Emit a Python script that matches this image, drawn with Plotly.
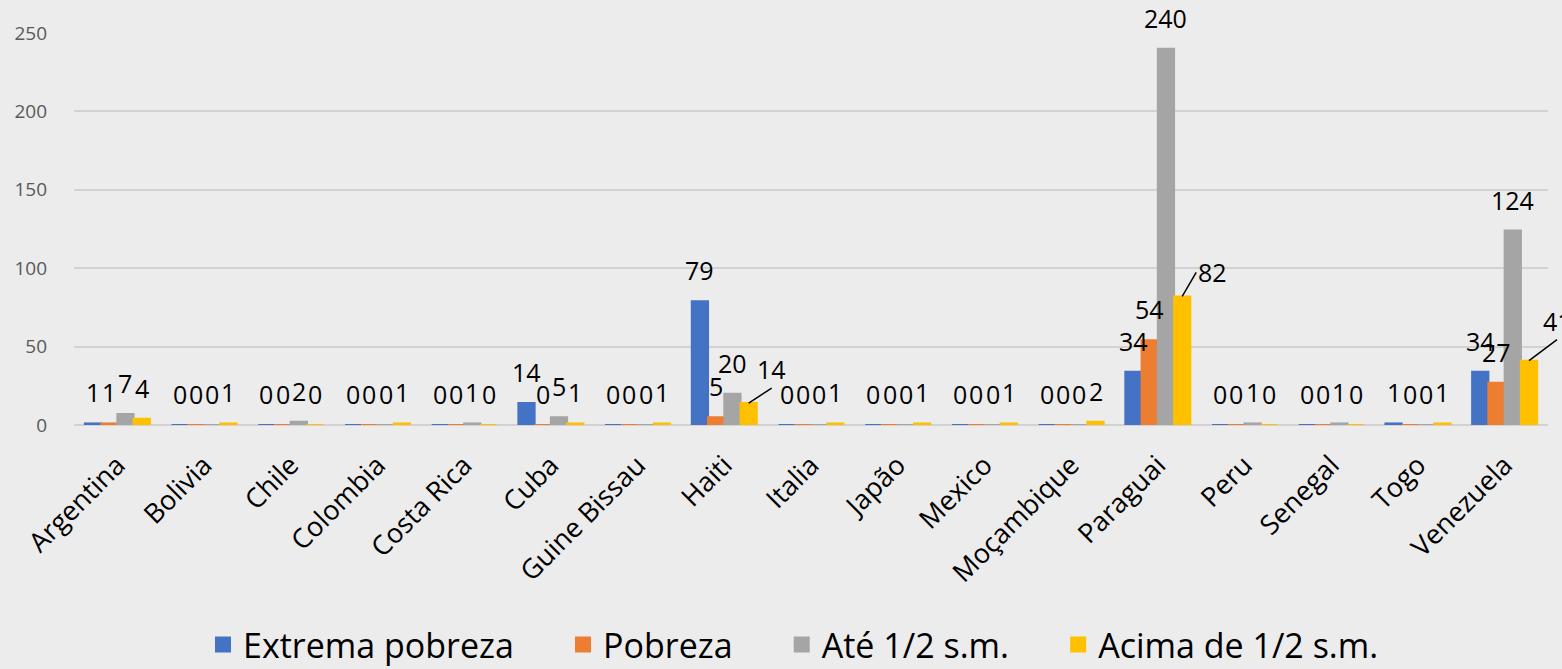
import plotly.graph_objects as go

# categories and series values
countries = ["Argentina", "Bolivia", "Chile", "Colombia", "Costa Rica", "Cuba",
             "Guine Bissau", "Haiti", "Italia", "Japão", "Mexico", "Moçambique",
             "Paraguai", "Peru", "Senegal", "Togo", "Venezuela"]
extrema_pobreza = [1, 0, 0, 0, 0, 14, 0, 79, 0, 0, 0, 0, 34, 0, 0, 1, 34]
pobreza = [1, 0, 0, 0, 0, 0, 0, 5, 0, 0, 0, 0, 54, 0, 0, 0, 27]
ate_meio_sm = [7, 0, 2, 0, 1, 5, 0, 20, 0, 0, 0, 0, 240, 1, 1, 0, 124]
acima_meio_sm = [4, 1, 0, 1, 0, 1, 1, 14, 1, 1, 1, 2, 82, 0, 0, 1, 41]
y_ticks = [0, 50, 100, 150, 200, 250]

series = [
    ("Extrema pobreza", extrema_pobreza, "#4472C4"),
    ("Pobreza", pobreza, "#ED7D31"),
    ("Até 1/2 s.m.", ate_meio_sm, "#A5A5A5"),
    ("Acima de 1/2 s.m.", acima_meio_sm, "#FFC000"),
]

# labels drawn with a leader line in the original: (country, series index) -> (ax, ay, xanchor, yanchor)
leader_labels = {
    ("Haiti", 3): (23, -15, "center", "bottom"),
    ("Paraguai", 3): (14, -24, "left", "middle"),
    ("Venezuela", 3): (28, -21, "center", "bottom"),
}

FONT = "Open Sans"
BARGAP = 0.25
MARGIN = dict(l=74, r=14, t=33, b=244)
PLOT_W = 1562 - MARGIN["l"] - MARGIN["r"]
BAR_PX = PLOT_W / len(countries) * (1 - BARGAP) / len(series)
PAD = "\u00a0" * 5  # extra room between legend entries

fig = go.Figure()
for i, (name, values, color) in enumerate(series):
    fig.add_trace(go.Bar(
        x=countries,
        y=values,
        name=name,
        showlegend=False,
        marker=dict(color=color, line=dict(width=2, color=color)),
    ))
    # legend entry with a bigger square symbol
    fig.add_trace(go.Scatter(
        x=[None], y=[None], mode="markers",
        name=name + (PAD if i < len(series) - 1 else ""),
        marker=dict(symbol="square", size=22, color=color),
    ))
    shift = (i - (len(series) - 1) / 2) * BAR_PX
    for country, v in zip(countries, values):
        if (country, i) in leader_labels:
            ax, ay, xa, ya = leader_labels[(country, i)]
            fig.add_annotation(
                x=country, y=v, xshift=shift, text=str(v),
                showarrow=True, arrowhead=0, arrowwidth=1.5, arrowcolor="#000000",
                ax=ax, ay=ay, xanchor=xa, yanchor=ya,
                font=dict(family=FONT, size=25, color="#000000"),
            )
        else:
            fig.add_annotation(
                x=country, y=v, xshift=shift, yshift=12, text=str(v),
                showarrow=False, yanchor="bottom",
                font=dict(family=FONT, size=25, color="#000000"),
            )

fig.update_layout(
    width=1562,
    height=669,
    barmode="group",
    bargap=BARGAP,
    bargroupgap=0,
    paper_bgcolor="#ececec",
    plot_bgcolor="#ececec",
    font=dict(family=FONT, color="#595959"),
    margin=MARGIN,
    showlegend=True,
    legend=dict(
        orientation="h",
        xref="container",
        x=0.508,
        xanchor="center",
        yref="container",
        y=0.036,
        yanchor="middle",
        font=dict(family=FONT, size=34, color="#000000"),
        bgcolor="rgba(0,0,0,0)",
        itemsizing="trace",
    ),
    xaxis=dict(
        range=[-0.5, len(countries) - 0.5],
        tickangle=-45,
        tickfont=dict(family=FONT, size=27, color="#000000"),
        showgrid=False,
        showline=False,
        ticks="",
        ticklabelstandoff=18,
        automargin=False,
    ),
    yaxis=dict(
        range=[0, 250],
        tickvals=y_ticks,
        tickfont=dict(family=FONT, size=19, color="#595959"),
        showgrid=True,
        gridcolor="#d2d2d2",
        gridwidth=1.5,
        zeroline=True,
        zerolinecolor="#d2d2d2",
        zerolinewidth=1.5,
        ticks="",
        ticklabelstandoff=26,
        automargin=False,
    ),
)

fig.write_html(
    "out.html",
    config={"displayModeBar": False},
    post_script="document.body.style.margin='0';",
)
